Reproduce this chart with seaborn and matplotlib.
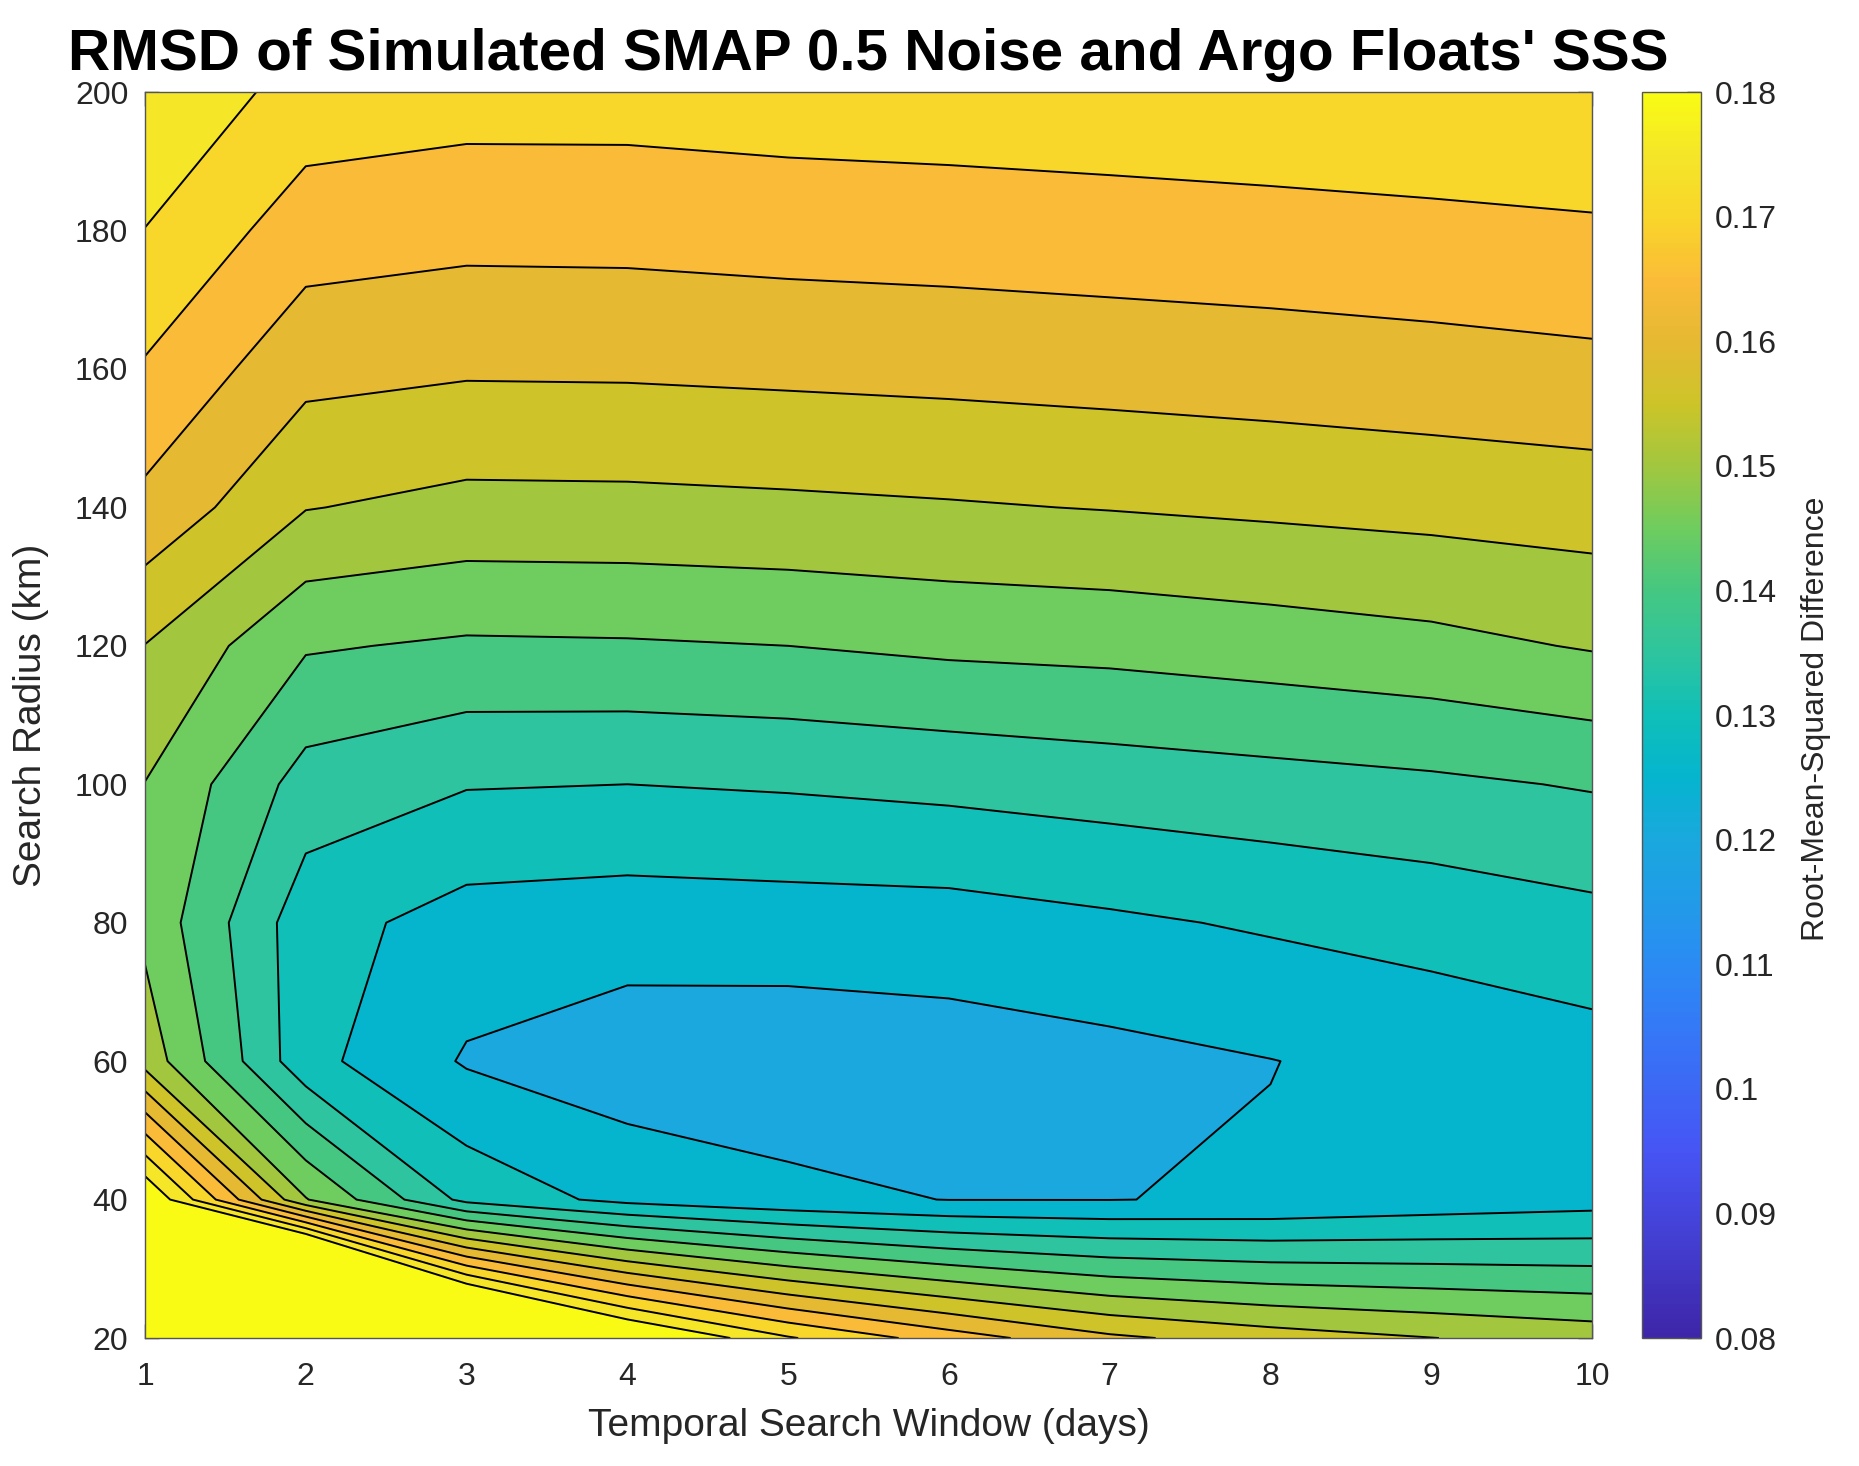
import numpy as np
import matplotlib
matplotlib.use("Agg")
import matplotlib.pyplot as plt
import seaborn as sns
from matplotlib.colors import Normalize
from matplotlib.cm import ScalarMappable

# grid of the RMSD surface
window_days = [1, 2, 3, 4, 5, 6, 7, 8, 9, 10]
radius_km = [20, 40, 60, 80, 100, 120, 140, 160, 180, 200]

rmsd_20km = [0.300, 0.270, 0.210, 0.188, 0.1755, 0.1675, 0.1610, 0.1575, 0.1551, 0.1530]
rmsd_40km = [0.1855, 0.1503, 0.1335, 0.1285, 0.1262, 0.1249, 0.1249, 0.1255, 0.1269, 0.1280]
rmsd_60km = [0.1530, 0.1316, 0.1245, 0.1221, 0.1218, 0.1226, 0.1236, 0.1249, 0.1265, 0.1279]
rmsd_80km = [0.1487, 0.1320, 0.1280, 0.1274, 0.1277, 0.1279, 0.1292, 0.1306, 0.1319, 0.1335]
rmsd_100km = [0.1499, 0.1380, 0.1353, 0.1350, 0.1355, 0.1363, 0.1373, 0.1382, 0.1391, 0.1404]
rmsd_120km = [0.1549, 0.1455, 0.1443, 0.1445, 0.1450, 0.1460, 0.1465, 0.1475, 0.1486, 0.1504]
rmsd_140km = [0.1637, 0.1552, 0.1536, 0.1537, 0.1541, 0.1546, 0.1552, 0.1559, 0.1566, 0.1573]
rmsd_160km = [0.1695, 0.1615, 0.1606, 0.1607, 0.1611, 0.1615, 0.1620, 0.1625, 0.1631, 0.1638]
rmsd_180km = [0.1749, 0.1674, 0.1665, 0.1666, 0.1671, 0.1674, 0.1678, 0.1682, 0.1687, 0.1693]
rmsd_200km = [0.1795, 0.1730, 0.1721, 0.1721, 0.1726, 0.1729, 0.1733, 0.1738, 0.1743, 0.1747]

x_ticks = window_days
y_ticks = radius_km
cbar_ticks = [0.08, 0.09, 0.10, 0.11, 0.12, 0.13, 0.14, 0.15, 0.16, 0.17, 0.18]

# parula-like colour anchors, evenly spaced from 0.08 to 0.18
parula_anchors = [
    (0.242, 0.150, 0.660), (0.256, 0.211, 0.765), (0.269, 0.271, 0.868),
    (0.276, 0.333, 0.958), (0.240, 0.405, 0.962), (0.204, 0.477, 0.965),
    (0.167, 0.545, 0.955), (0.130, 0.610, 0.910), (0.100, 0.660, 0.870),
    (0.020, 0.710, 0.810), (0.060, 0.750, 0.720), (0.180, 0.770, 0.620),
    (0.270, 0.780, 0.510), (0.430, 0.800, 0.370), (0.630, 0.780, 0.250),
    (0.800, 0.770, 0.160), (0.900, 0.725, 0.200), (0.980, 0.735, 0.220),
    (0.976, 0.835, 0.165), (0.960, 0.900, 0.160), (0.977, 0.984, 0.081),
]

sns.set_style("ticks")
plt.rcParams["font.family"] = ["Liberation Sans", "DejaVu Sans"]
axis_grey = "#262626"

parula = sns.blend_palette(parula_anchors, n_colors=256, as_cmap=True)
cmin, cmax = 0.08, 0.18
levels = np.round(np.arange(16, 37) * 0.005, 3)  # 0.080 ... 0.180
# MATLAB style: each band takes the colour of its lower level
band_colors = [parula(min((lv - cmin) / (cmax - cmin), 1.0)) for lv in levels]

X, Y = np.meshgrid(window_days, radius_km)
Z = np.array([rmsd_20km, rmsd_40km, rmsd_60km, rmsd_80km, rmsd_100km,
              rmsd_120km, rmsd_140km, rmsd_160km, rmsd_180km, rmsd_200km])

fig = plt.figure(figsize=(18.59, 14.66), dpi=100)
ax = fig.add_axes([0.0780, 0.0873, 0.7784, 0.8499])

ax.contourf(X, Y, Z, levels=levels, colors=band_colors, extend="max")
ax.contour(X, Y, Z, levels=levels, colors="k", linewidths=1.4)

ax.set_xlim(1, 10)
ax.set_ylim(20, 200)
ax.set_xticks(x_ticks)
ax.set_yticks(y_ticks)
ax.tick_params(axis="both", direction="in", length=10, width=1.0,
               colors=axis_grey, labelsize=23, top=True, right=True)
ax.tick_params(axis="x", pad=17)
ax.tick_params(axis="y", pad=12)
for sp in ax.spines.values():
    sp.set_color("#555555")
    sp.set_linewidth(1.0)

ax.set_xlabel("Temporal Search Window (days)", fontsize=28, color=axis_grey)
ax.set_ylabel("Search Radius (km)", fontsize=28, color=axis_grey)
ax.xaxis.set_label_coords(0.5, -0.056)
ax.yaxis.set_label_coords(-0.066, 0.5)

fig.text(0.467, 0.9523, "RMSD of Simulated SMAP 0.5 Noise and Argo Floats' SSS",
         ha="center", va="baseline", fontsize=42, fontweight="bold", color="black")

cax = fig.add_axes([0.8833, 0.0873, 0.0317, 0.8499])
sm = ScalarMappable(norm=Normalize(cmin, cmax), cmap=parula)
cbar = fig.colorbar(sm, cax=cax)
cbar.set_ticks(cbar_ticks)
cbar.set_ticklabels([f"{t:g}" for t in cbar_ticks])
cbar.ax.tick_params(direction="in", length=10, width=1.0, colors=axis_grey,
                    labelsize=23, pad=10)
cbar.outline.set_edgecolor("#555555")
cbar.outline.set_linewidth(1.0)
fig.text(0.977, 0.5095, "Root-Mean-Squared Difference", rotation=90,
         ha="center", va="center", fontsize=23, color=axis_grey)

fig.savefig("out.png", dpi=100)
